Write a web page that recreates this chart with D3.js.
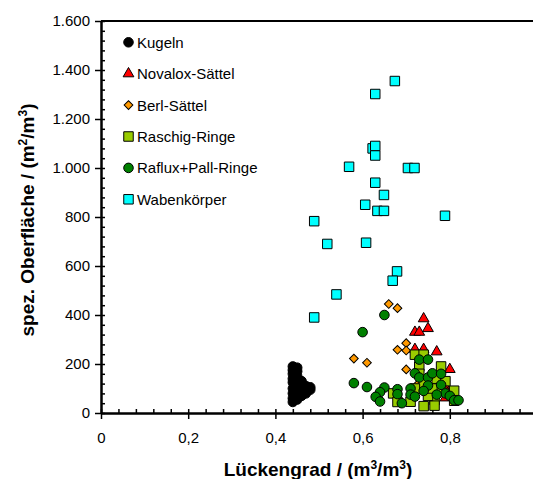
<!DOCTYPE html>
<html>
<head>
<meta charset="utf-8">
<script src="https://cdn.jsdelivr.net/npm/d3@7"></script>
<style>
	body { margin: 0; background: #fff; }
	text { font-family: "Liberation Sans", Arial, sans-serif; }
</style>
</head>
<body>
<svg id="chart" width="533" height="479"></svg>
<script>
"use strict";

// series (x = Lückengrad, y = spez. Oberfläche)
var seriesNames = ["Kugeln", "Novalox-Sättel", "Berl-Sättel", "Raschig-Ringe", "Raflux+Pall-Ringe", "Wabenkörper"];

var kugeln = [
	[0.44,190],[0.45,185],[0.44,175],[0.45,170],[0.44,160],[0.45,150],[0.44,140],[0.45,135],
	[0.46,130],[0.44,125],[0.45,120],[0.46,115],[0.47,110],[0.48,105],[0.44,100],[0.45,95],
	[0.46,90],[0.47,88],[0.48,95],[0.44,80],[0.45,75],[0.46,70],[0.44,60],[0.45,55],[0.44,45],[0.47,80]
];
var novalox = [
	[0.74,385],[0.72,330],[0.73,330],[0.75,345],[0.77,250],[0.74,260],[0.72,260],
	[0.80,178],[0.79,105],[0.79,62],[0.795,80],[0.76,90]
];
var berl = [
	[0.66,445],[0.68,428],[0.70,285],[0.68,258],[0.70,255],[0.58,222],[0.61,205],
	[0.70,178],[0.727,118],[0.75,100]
];
var raschig = [
	[0.72,238],[0.74,238],[0.73,190],[0.78,190],[0.74,121],[0.81,91],[0.78,91],[0.67,80],
	[0.68,45],[0.71,46],[0.74,28],[0.765,53],[0.765,30],[0.81,50],[0.75,70],[0.77,140],
	[0.73,160],[0.72,100],[0.76,100],[0.79,130]
];
var raflux = [
	[0.65,400],[0.60,330],[0.58,122],[0.61,106],[0.65,104],[0.64,85],[0.63,66],[0.64,47],
	[0.68,97],[0.68,77],[0.69,40],[0.71,100],[0.71,75],[0.72,67],[0.73,218],[0.75,218],
	[0.72,162],[0.73,145],[0.75,145],[0.76,162],[0.78,160],[0.75,112],[0.78,115],[0.79,80],
	[0.80,70],[0.81,52],[0.82,52],[0.74,90],[0.77,75]
];
var waben = [
	[0.674,1355],[0.629,1302],[0.623,1080],[0.629,1090],[0.629,1051],[0.569,1005],[0.704,1000],
	[0.719,1000],[0.629,940],[0.649,890],[0.606,850],[0.634,825],[0.649,825],[0.789,805],
	[0.489,783],[0.519,690],[0.608,695],[0.679,578],[0.669,540],[0.540,484],[0.489,390]
];
var seriesData = [kugeln, novalox, berl, raschig, raflux, waben];

// ticks
var xTicks = [0, 0.2, 0.4, 0.6, 0.8, 1];
var xMinorTicks = d3.range(0, 1.0001, 0.04);
var yTicks = [0, 200, 400, 600, 800, 1000, 1200, 1400, 1600];
var yMinorTicks = d3.range(0, 1601, 40);

// style per series
var colors = ["#000000", "#ff0000", "#ff9900", "#99cc00", "#008000", "#00ffff"];
var shapes = ["circle", "triangle", "diamond", "square", "circle", "square"];

var svg = d3.select("#chart");
var deLocale = d3.formatLocale({ decimal: ",", thousands: ".", grouping: [3], currency: ["", "€"] });

var xScale = d3.scaleLinear().domain([0, 1]).range([101, 537]),
	yScale = d3.scaleLinear().domain([0, 1600]).range([413, 21]);

function markerPath(shape) {
	if (shape === "circle") return d3.symbol(d3.symbolCircle, 72)();
	if (shape === "triangle") return d3.symbol(d3.symbolTriangle, 50)();
	if (shape === "diamond") return d3.symbol(d3.symbolSquare, 38)();
	return d3.symbol(d3.symbolSquare, 90)();
}
function markerTransform(shape, x, y) {
	return "translate(" + x + "," + y + ")" + (shape === "diamond" ? " rotate(45)" : "");
}

//************ AXES ************
var fmtX = function(d) { return d === 0 || d === 1 ? String(d) : deLocale.format(".1f")(d); };
var fmtY = deLocale.format(",d");

// y axis: labels + outer part of the major ticks
var gy = svg.append("g").attr("transform", "translate(" + xScale(0) + ",0)")
	.call(d3.axisLeft(yScale).tickValues(yTicks).tickFormat(fmtY).tickSize(6).tickPadding(5).tickSizeOuter(0));
// inner minor ticks
svg.append("g").attr("transform", "translate(" + xScale(0) + ",0)")
	.call(d3.axisRight(yScale).tickValues(yMinorTicks).tickFormat("").tickSize(4).tickSizeOuter(0));

var gx = svg.append("g").attr("transform", "translate(0," + yScale(0) + ")")
	.call(d3.axisBottom(xScale).tickValues(xTicks).tickFormat(fmtX).tickSize(6).tickPadding(13).tickSizeOuter(0));
svg.append("g").attr("transform", "translate(0," + yScale(0) + ")")
	.call(d3.axisTop(xScale).tickValues(xMinorTicks).tickFormat("").tickSize(4).tickSizeOuter(0));

svg.selectAll(".domain").attr("stroke", "#000").attr("stroke-width", 2);
svg.selectAll(".tick line").attr("stroke", "#000").attr("stroke-width", 1.5);
svg.selectAll(".tick text").attr("fill", "#000").style("font-size", "15px")
	.style("font-family", "'Liberation Sans', Arial, sans-serif");

// top border
svg.append("line")
	.attr("x1", xScale(0)).attr("x2", xScale(1))
	.attr("y1", yScale(1600)).attr("y2", yScale(1600))
	.attr("stroke", "#000").attr("stroke-width", 2);

//************ POINTS ************
seriesData.forEach(function(data, i) {
	svg.append("g").attr("class", "series s" + i)
		.selectAll("path")
		.data(data)
		.enter().append("path")
		.attr("d", markerPath(shapes[i]))
		.attr("transform", function(d) { return markerTransform(shapes[i], xScale(d[0]), yScale(d[1])); })
		.attr("fill", colors[i])
		.attr("stroke", "#000")
		.attr("stroke-width", 1);
});

//************ LEGEND ************
var legend = svg.append("g").attr("class", "legend");
seriesNames.forEach(function(name, i) {
	var ly = 42.3 + i * 31.4;
	legend.append("path")
		.attr("d", markerPath(shapes[i]))
		.attr("transform", markerTransform(shapes[i], 128.5, ly))
		.attr("fill", colors[i])
		.attr("stroke", "#000")
		.attr("stroke-width", 1);
	legend.append("text")
		.attr("x", 137).attr("y", ly + 5.5)
		.style("font-size", "15px")
		.text(name);
});

//************ TITLES ************
var xt = svg.append("text")
	.attr("x", 318).attr("y", 476)
	.attr("text-anchor", "middle")
	.style("font-size", "19px").style("font-weight", "bold");
xt.append("tspan").text("Lückengrad / (m");
xt.append("tspan").attr("dy", -7).style("font-size", "12px").text("3");
xt.append("tspan").attr("dy", 7).text("/m");
xt.append("tspan").attr("dy", -7).style("font-size", "12px").text("3");
xt.append("tspan").attr("dy", 7).text(")");

var yt = svg.append("text")
	.attr("transform", "translate(34,220) rotate(-90)")
	.attr("text-anchor", "middle")
	.style("font-size", "19px").style("font-weight", "bold");
yt.append("tspan").text("spez. Oberfläche / (m");
yt.append("tspan").attr("dy", -7).style("font-size", "12px").text("2");
yt.append("tspan").attr("dy", 7).text("/m");
yt.append("tspan").attr("dy", -7).style("font-size", "12px").text("3");
yt.append("tspan").attr("dy", 7).text(")");
</script>
</body>
</html>
